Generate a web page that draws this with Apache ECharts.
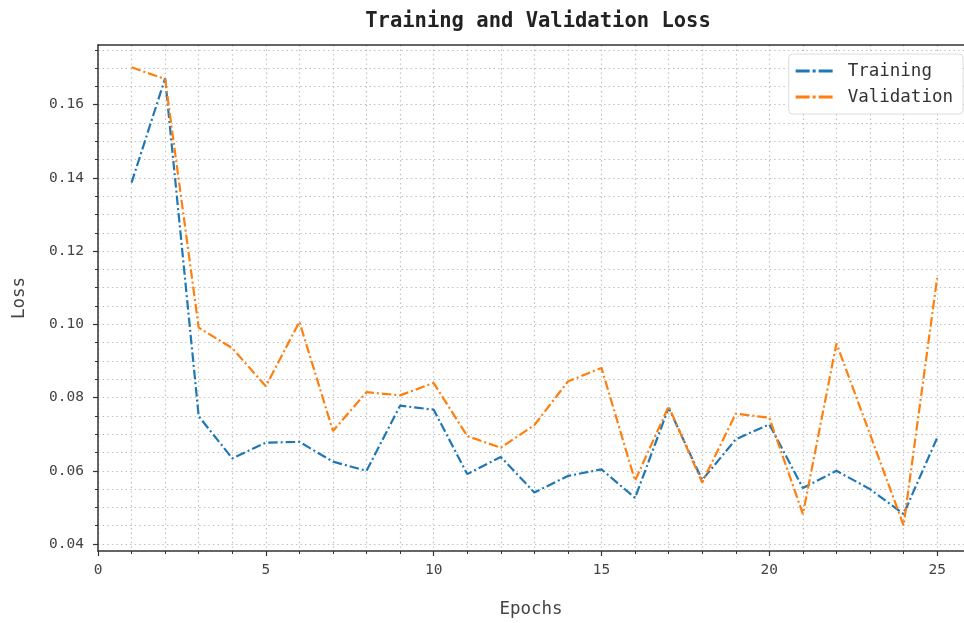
<!DOCTYPE html>
<html>
<head>
<meta charset="utf-8">
<title>Training and Validation Loss</title>
<script src="https://cdn.jsdelivr.net/npm/echarts@6/dist/echarts.min.js"></script>
<style>
  html, body { margin: 0; padding: 0; background: #ffffff; }
  #chart { width: 964px; height: 623px; }
</style>
</head>
<body>
<div id="chart"></div>
<script>
// Epoch numbers on the x axis
const epochs = [1, 2, 3, 4, 5, 6, 7, 8, 9, 10, 11, 12, 13, 14, 15, 16, 17, 18, 19, 20, 21, 22, 23, 24, 25];

// Loss per epoch
const trainingLoss = [0.1387, 0.1672, 0.0749, 0.0634, 0.0677, 0.0679, 0.0625, 0.0600, 0.0778, 0.0767,
                      0.0591, 0.0638, 0.0541, 0.0586, 0.0604, 0.0526, 0.0772, 0.0575, 0.0686, 0.0727,
                      0.0553, 0.0600, 0.0550, 0.0482, 0.0690];
const validationLoss = [0.1702, 0.1670, 0.0991, 0.0935, 0.0831, 0.1007, 0.0709, 0.0815, 0.0806, 0.0840,
                        0.0695, 0.0663, 0.0725, 0.0844, 0.0881, 0.0573, 0.0776, 0.0568, 0.0756, 0.0745,
                        0.0482, 0.0948, 0.0700, 0.0451, 0.1127];

// Tick positions
const xMajorTicks = [0, 5, 10, 15, 20, 25];
const xMinorTicks = [0, 1, 2, 3, 4, 5, 6, 7, 8, 9, 10, 11, 12, 13, 14, 15, 16, 17, 18, 19, 20, 21, 22, 23, 24, 25];
const yMajorTicks = [0.04, 0.06, 0.08, 0.10, 0.12, 0.14, 0.16];
const yMinorTicks = [0.040, 0.045, 0.050, 0.055, 0.060, 0.065, 0.070, 0.075, 0.080, 0.085, 0.090, 0.095,
                     0.100, 0.105, 0.110, 0.115, 0.120, 0.125, 0.130, 0.135, 0.140, 0.145, 0.150, 0.155,
                     0.160, 0.165, 0.170, 0.175];

const xRange = [0, 25.8];
const yRange = [0.0381, 0.1763];

const FONT = '"DejaVu Sans Mono", monospace';
const AXIS_COLOR = '#333333';
const GRID_LINE = { color: '#bdbdbd', width: 1.2, type: [1.4, 3.2] };
const DASH_DOT = [9.5, 3, 2, 3];
// legend key: dash, dot, dash
const DASH_DOT_ICON = 'path://M0 0H14V3H0Z M17 0H20V3H17Z M23 0H37V3H23Z';

const chart = echarts.init(document.getElementById('chart'), null, { renderer: 'canvas' });

const toPairs = (xs, ys) => xs.map((x, i) => [x, ys[i]]);

chart.setOption({
  backgroundColor: '#ffffff',
  animation: false,
  title: {
    text: 'Training and Validation Loss',
    left: 533,
    textAlign: 'center',
    top: 6,
    textStyle: { fontFamily: FONT, fontSize: 20.5, fontWeight: 'bold', color: '#222222' }
  },
  legend: {
    orient: 'vertical',
    right: 1,
    top: 54,
    padding: [8, 10, 8, 7],
    itemWidth: 37,
    itemHeight: 3,
    itemGap: 8,
    backgroundColor: '#ffffff',
    borderColor: '#dddddd',
    borderWidth: 1,
    borderRadius: 4,
    itemStyle: { borderWidth: 0, opacity: 1 },
    lineStyle: { width: 0, opacity: 0 },
    textStyle: { fontFamily: FONT, fontSize: 17.5, color: '#333333', padding: [0, 0, 0, 10] },
    data: [
      { name: 'Training', icon: DASH_DOT_ICON },
      { name: 'Validation', icon: DASH_DOT_ICON }
    ]
  },
  grid: { left: 98, right: 0, top: 45, bottom: 69, containLabel: false },
  xAxis: [
    {
      // minor ticks and vertical grid lines
      type: 'value', position: 'bottom', min: xRange[0], max: xRange[1],
      axisLine: { show: true, lineStyle: { color: AXIS_COLOR, width: 1.5 } },
      axisTick: { show: true, customValues: xMinorTicks, length: 3, lineStyle: { color: AXIS_COLOR, width: 1 } },
      axisLabel: { show: false },
      splitLine: { show: true, lineStyle: GRID_LINE }
    },
    {
      // major ticks, labels and axis title
      type: 'value', position: 'bottom', min: xRange[0], max: xRange[1],
      axisLine: { show: false },
      axisTick: { show: true, customValues: xMajorTicks, length: 5, lineStyle: { color: AXIS_COLOR, width: 1.2 } },
      axisLabel: { show: true, customValues: xMajorTicks, margin: 12, fontFamily: FONT, fontSize: 14.5, color: '#444444' },
      splitLine: { show: false },
      name: 'Epochs', nameLocation: 'middle', nameGap: 49,
      nameTextStyle: { fontFamily: FONT, fontSize: 17.5, color: '#444444' }
    },
    {
      // top frame line
      type: 'value', position: 'top', min: xRange[0], max: xRange[1],
      axisLine: { show: true, lineStyle: { color: AXIS_COLOR, width: 1.5 } },
      axisTick: { show: false }, axisLabel: { show: false }, splitLine: { show: false }
    }
  ],
  yAxis: [
    {
      // minor ticks and horizontal grid lines
      type: 'value', position: 'left', min: yRange[0], max: yRange[1],
      axisLine: { show: true, lineStyle: { color: AXIS_COLOR, width: 1.5 } },
      axisTick: { show: true, customValues: yMinorTicks, length: 3, lineStyle: { color: AXIS_COLOR, width: 1 } },
      axisLabel: { show: false },
      splitLine: { show: true, lineStyle: GRID_LINE }
    },
    {
      // major ticks, labels and axis title
      type: 'value', position: 'left', min: yRange[0], max: yRange[1],
      axisLine: { show: false },
      axisTick: { show: true, customValues: yMajorTicks, length: 5, lineStyle: { color: AXIS_COLOR, width: 1.2 } },
      axisLabel: {
        show: true, customValues: yMajorTicks, margin: 14,
        fontFamily: FONT, fontSize: 14.5, color: '#444444',
        formatter: v => v.toFixed(2)
      },
      splitLine: { show: false },
      name: 'Loss', nameLocation: 'middle', nameGap: 70, nameRotate: 90,
      nameTextStyle: { fontFamily: FONT, fontSize: 17.5, color: '#444444' }
    }
  ],
  series: [
    {
      name: 'Training', type: 'line', xAxisIndex: 0, yAxisIndex: 0,
      data: toPairs(epochs, trainingLoss),
      symbol: 'none', smooth: false,
      itemStyle: { color: '#1f77b4' },
      lineStyle: { color: '#1f77b4', width: 2.2, type: DASH_DOT },
      z: 3
    },
    {
      name: 'Validation', type: 'line', xAxisIndex: 0, yAxisIndex: 0,
      data: toPairs(epochs, validationLoss),
      symbol: 'none', smooth: false,
      itemStyle: { color: '#ff7f0e' },
      lineStyle: { color: '#ff7f0e', width: 2.2, type: DASH_DOT },
      z: 4
    }
  ]
});
</script>
</body>
</html>
